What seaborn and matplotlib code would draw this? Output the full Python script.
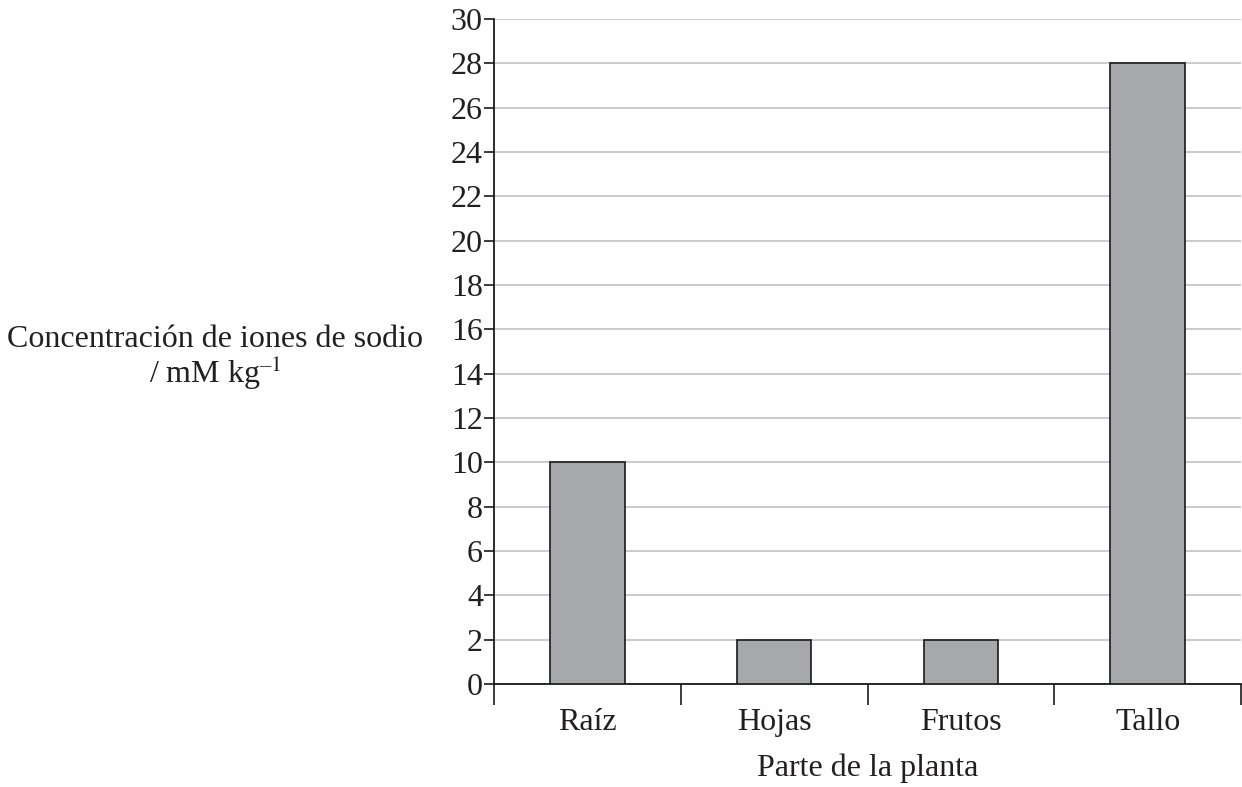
import matplotlib
matplotlib.use("Agg")
import matplotlib.pyplot as plt
import numpy as np
import pandas as pd
import seaborn as sns

# Data
partes = ["Raíz", "Hojas", "Frutos", "Tallo"]
concentracion = [10, 2, 2, 28]
y_ticks = list(range(0, 31, 2))

df = pd.DataFrame({"parte": partes, "conc": concentracion})

sns.set_theme(style="white")
plt.rcParams["font.family"] = ["Liberation Serif", "DejaVu Serif"]
plt.rcParams["mathtext.fontset"] = "stix"

FS = 23
TXT = "#231f20"

fig = plt.figure(figsize=(12.42, 7.87), dpi=100)
ax = fig.add_axes([494 / 1242, 1 - 684 / 787, 747 / 1242, 665 / 787])

sns.barplot(data=df, x="parte", y="conc", ax=ax, color="#a7a8ab",
            saturation=1, width=0.4, edgecolor="#1a1a1a", linewidth=1.2, zorder=3)

ax.set_xlim(-0.5, 3.5)
ax.set_ylim(0, 30)
ax.set_yticks(y_ticks)
ax.yaxis.grid(True, color="#bdbdbd", linewidth=1.1, zorder=0)
ax.set_axisbelow(True)

for side in ["top", "right"]:
    ax.spines[side].set_visible(False)
for side in ["left", "bottom"]:
    ax.spines[side].set_color("#1a1a1a")
    ax.spines[side].set_linewidth(1.3)

ax.tick_params(axis="y", which="major", direction="out", length=7, width=1.2,
               color="#1a1a1a", labelsize=FS, pad=1, left=True)
ax.tick_params(axis="x", which="major", length=0, labelsize=FS, pad=17)
ax.set_xticks(np.arange(-0.5, 4.0, 1.0), minor=True)
ax.tick_params(axis="x", which="minor", direction="out", length=15, width=1.2,
               color="#1a1a1a", bottom=True)

for lbl in ax.get_yticklabels() + ax.get_xticklabels():
    lbl.set_color(TXT)

ax.set_xlabel("")
ax.set_ylabel("")

fig.text(868 / 1242, 1 - 768 / 787, "Parte de la planta", ha="center", va="center",
         fontsize=FS, color=TXT)
fig.text(215 / 1242, 1 - 347 / 787, "Concentración de iones de sodio",
         ha="center", va="baseline", fontsize=FS, color=TXT)
fig.text(215 / 1242, 1 - 383 / 787, "/ mM kg$^{\\mathregular{\u2013}1}$",
         ha="center", va="baseline", fontsize=FS, color=TXT)

fig.savefig("out.png", dpi=100)
